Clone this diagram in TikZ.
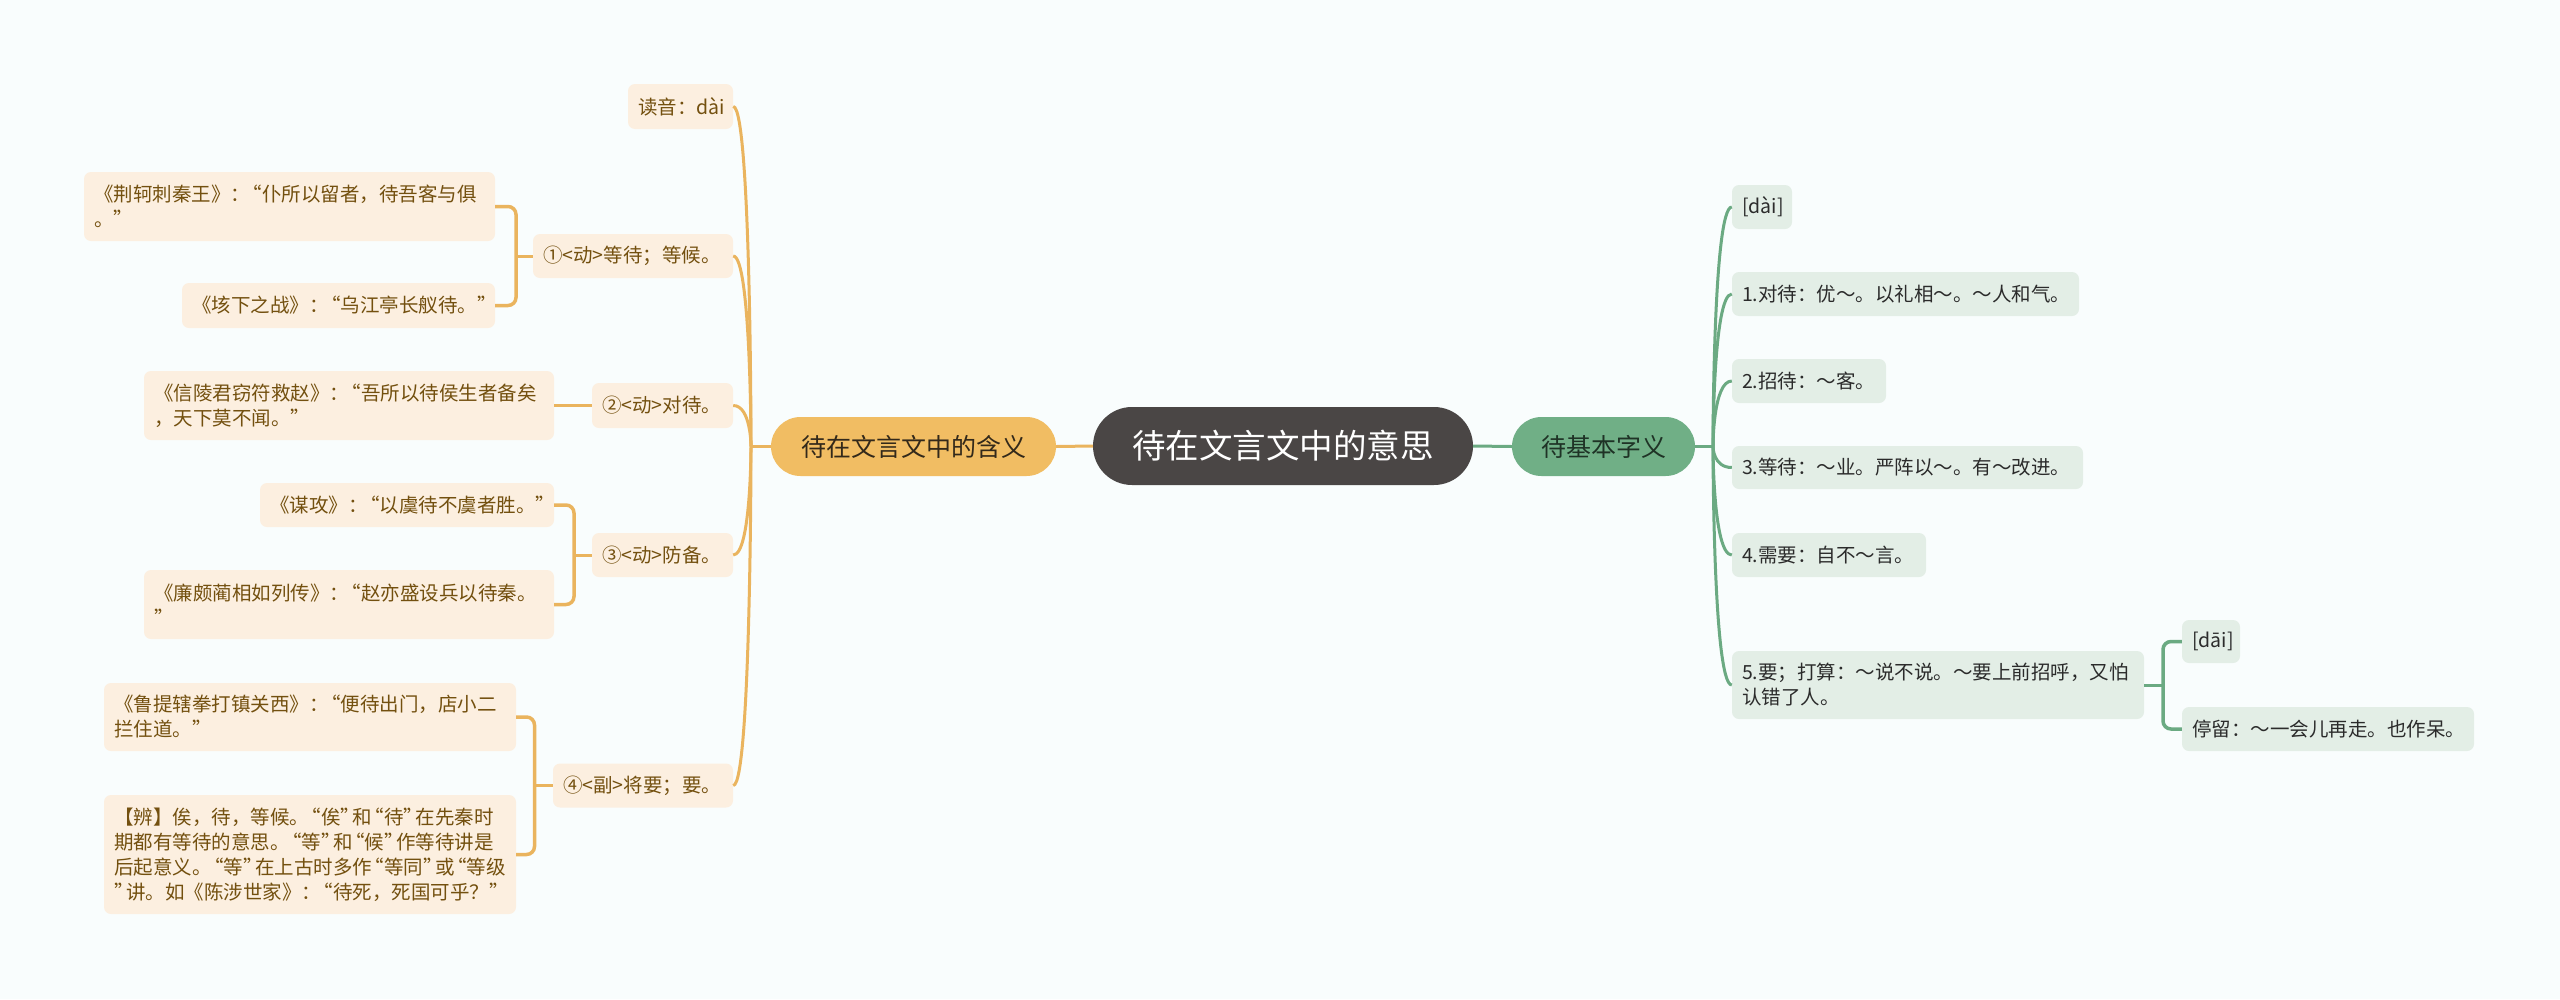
\documentclass[tikz,border=0pt]{standalone}
\usepackage{fontspec}
\setmainfont{Noto Sans CJK SC}
\newcommand\oq{\makebox[0.62em][r]{“}}
\newcommand\cq{\makebox[0.62em][l]{”}}
\definecolor{BG}{HTML}{F9FDFD}
\definecolor{OL}{HTML}{EAB45E}
\definecolor{OF}{HTML}{FCEFE0}
\definecolor{OT}{HTML}{73500F}
\definecolor{OMF}{HTML}{F1BD63}
\definecolor{OMT}{HTML}{33291A}
\definecolor{CF}{HTML}{4A4645}
\definecolor{GL}{HTML}{6BAA82}
\definecolor{GF}{HTML}{E3EEE6}
\definecolor{GT}{HTML}{2B2B2B}
\definecolor{GMF}{HTML}{70AF86}
\definecolor{GMT}{HTML}{1F3326}
\begin{document}
\begin{tikzpicture}[x=1pt,y=-1pt,
  ochild/.style={fill=OF, text=OT, rounded corners=7pt, font=\fontsize{19.5}{25}\selectfont, inner xsep=10pt, inner ysep=0pt, align=left},
  gchild/.style={fill=GF, text=GT, rounded corners=7pt, font=\fontsize{19.5}{25}\selectfont, inner xsep=10pt, inner ysep=0pt, align=left},
  olink/.style={draw=OL, line width=3pt},
  obrack/.style={draw=OL, line width=3.5pt, rounded corners=8pt},
  glink/.style={draw=GL, line width=3pt},
  gbrack/.style={draw=GL, line width=3.5pt, rounded corners=8pt},
  mainpill/.style={inner sep=0pt, align=center}
]
\fill[BG] (0,0) rectangle (2560,999);
\useasboundingbox (0,0) rectangle (2560,999);

% main nodes
\node[mainpill, fill=CF, text=white, minimum width=380pt, minimum height=78pt, rounded corners=39pt, font=\fontsize{33.5}{40}\selectfont] (c) at (1283,446) {待在文言文中的意思};
\node[mainpill, fill=OMF, text=OMT, minimum width=285pt, minimum height=59pt, rounded corners=29.5pt, font=\fontsize{25}{30}\selectfont] (om) at (913.5,446.5) {待在文言文中的含义};
\node[mainpill, fill=GMF, text=GMT, minimum width=183pt, minimum height=59pt, rounded corners=29.5pt, font=\fontsize{25}{30}\selectfont] (gm) at (1603.5,446.5) {待基本字义};

% orange children level 1
\node[ochild, text width=85pt, minimum height=45pt] (dy) at (680.5,106.5) {读音：dài};
\node[ochild, text width=180pt, minimum height=44pt] (o1) at (633,256) {①<动>等待；等候。};
\node[ochild, text width=121pt, minimum height=45pt] (o2) at (662.5,405.5) {②<动>对待。};
\node[ochild, text width=121pt, minimum height=44pt] (o3) at (662.5,555) {③<动>防备。};
\node[ochild, text width=160pt, minimum height=44pt] (o4) at (643,785.5) {④<副>将要；要。};

% orange children level 2
\node[ochild, text width=391pt, minimum height=69pt] (jk) at (289.5,206.5) {《荆轲刺秦王》：\oq 仆所以留者，待吾客与俱\\。\cq};
\node[ochild, text width=293pt, minimum height=45pt] (gx) at (338.5,305.5) {《垓下之战》：\oq 乌江亭长舣待。\cq};
\node[ochild, text width=390pt, minimum height=69pt] (xl) at (349,405.5) {《信陵君窃符救赵》：\oq 吾所以待侯生者备矣\\，天下莫不闻。\cq};
\node[ochild, text width=274pt, minimum height=44pt] (mg) at (407,505) {《谋攻》：\oq 以虞待不虞者胜。\cq};
\node[ochild, text width=390pt, minimum height=69pt] (lp) at (349,604.5) {《廉颇蔺相如列传》：\oq 赵亦盛设兵以待秦。\\\cq};
\node[ochild, text width=392pt, minimum height=68pt] (lt) at (310,717) {《鲁提辖拳打镇关西》：\oq 便待出门，店小二\\拦住道。\cq};
\node[ochild, text width=392pt, minimum height=119pt] (bian) at (310,854.5) {【辨】俟，待，等候。\oq 俟\cq 和\oq 待\cq 在先秦时\\期都有等待的意思。\oq 等\cq 和\oq 候\cq 作等待讲是\\后起意义。\oq 等\cq 在上古时多作\oq 等同\cq 或\oq 等级\\\cq 讲。如《陈涉世家》：\oq 待死，死国可乎？\cq};

% green children
\node[gchild, text width=40pt, minimum height=44pt] (g0) at (1762,207) {[dài]};
\node[gchild, text width=327pt, minimum height=44pt] (g1) at (1905.5,294) {1.对待：优～。以礼相～。～人和气。};
\node[gchild, text width=134pt, minimum height=44pt] (g2) at (1809,381) {2.招待：～客。};
\node[gchild, text width=331pt, minimum height=43pt] (g3) at (1907.5,467.5) {3.等待：～业。严阵以～。有～改进。};
\node[gchild, text width=174pt, minimum height=44pt] (g4) at (1829,555) {4.需要：自不～言。};
\node[gchild, text width=392pt, minimum height=68pt] (g5) at (1938,685) {5.要；打算：～说不说。～要上前招呼，又怕\\认错了人。};
\node[gchild, text width=38pt, minimum height=43pt] (g51) at (2211,641.5) {[dāi]};
\node[gchild, text width=272pt, minimum height=44pt] (g52) at (2328,729) {停留：～一会儿再走。也作呆。};

% junction coordinates
\coordinate (JL) at (751,446.5);
\coordinate (JR) at (1713,446.5);
\coordinate (b1) at (516,256);
\coordinate (b3) at (574,555);
\coordinate (b4) at (534.5,785.5);
\coordinate (b5) at (2163,685);

% main links
\draw[olink] (c.west) -- (om.east);
\draw[glink] (c.east) -- (gm.west);
\draw[olink] (om.west) -- (JL);
\draw[glink] (gm.east) -- (JR);

% orange trunk curves
\foreach \n in {dy,o1,o2,o3,o4}{
  \draw[olink] (\n.east) .. controls (JL |- \n.east) and (JL) .. (JL);
}
% green trunk curves
\foreach \n in {g0,g1,g2,g3,g4,g5}{
  \draw[glink] (\n.west) .. controls (JR |- \n.west) and (JR) .. (JR);
}

% orange brackets
\draw[olink] (o1.west) -- (b1);
\draw[obrack] (jk.east) -- (b1 |- jk.east) -- (b1 |- gx.east) -- (gx.east);
\draw[olink] (o2.west) -- (xl.east);
\draw[olink] (o3.west) -- (b3);
\draw[obrack] (mg.east) -- (b3 |- mg.east) -- (b3 |- lp.east) -- (lp.east);
\draw[olink] (o4.west) -- (b4);
\draw[obrack] (lt.east) -- (b4 |- lt.east) -- (b4 |- bian.east) -- (bian.east);

% green bracket
\draw[glink] (g5.east) -- (b5);
\draw[gbrack] (g51.west) -- (b5 |- g51.west) -- (b5 |- g52.west) -- (g52.west);
\end{tikzpicture}
\end{document}
